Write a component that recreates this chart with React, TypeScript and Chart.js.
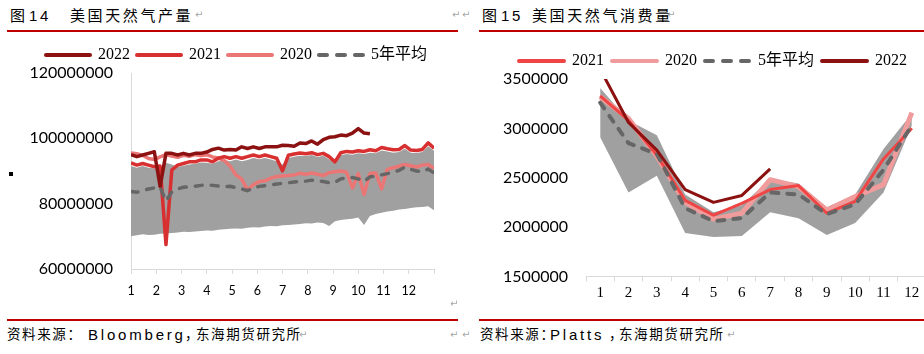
import React, { useEffect, useRef } from 'react';
import { Chart, registerables } from 'chart.js';

Chart.register(...registerables);

// ---------- Figure 14: US natural gas production (weekly, in millions) ----------
const UNIT = 1000000;
const prodMonthTicks = [1, 2, 3, 4, 5, 6, 7, 8, 9, 10, 11, 12];
const prod2022 = [95.0, 94.4, 94.9, 95.4, 95.9, 85.3, 95.4, 95.4, 94.9, 95.4, 94.9, 95.4, 95.4, 95.8, 96.6, 97.0, 96.4, 96.6, 96.4, 97.4, 96.9, 97.4, 96.9, 97.4, 97.4, 97.4, 97.9, 97.8, 97.6, 98.6, 98.4, 99.2, 98.2, 99.6, 100.3, 100.5, 101.0, 100.8, 101.6, 103.0, 101.6, 101.4];
const prod2021 = [92.5, 91.8, 92.3, 91.8, 91.3, 91.5, 67.5, 90.3, 91.8, 92.3, 92.8, 92.8, 93.4, 93.4, 92.8, 93.9, 94.4, 93.9, 94.4, 93.9, 94.4, 94.9, 94.4, 94.9, 94.4, 93.9, 90.0, 94.8, 95.2, 95.5, 95.3, 95.6, 95.0, 95.4, 94.4, 92.8, 95.6, 96.0, 95.8, 96.2, 96.0, 96.5, 96.2, 97.2, 96.8, 96.5, 96.6, 97.8, 96.4, 96.3, 96.6, 98.6, 97.0];
const prod2020 = [95.5, 95.3, 94.8, 93.8, 93.5, 94.3, 95.0, 94.6, 94.2, 94.8, 94.5, 95.0, 94.7, 95.0, 94.3, 94.0, 93.2, 91.5, 88.8, 87.5, 84.2, 85.8, 86.8, 87.0, 87.8, 88.3, 88.5, 88.6, 88.8, 89.3, 89.0, 89.4, 89.0, 88.6, 89.5, 89.8, 90.0, 89.6, 84.8, 89.2, 82.8, 89.2, 89.4, 84.5, 90.5, 91.0, 91.5, 92.0, 91.6, 91.2, 91.8, 92.0, 90.8];
const prodAvg = [83.7, 83.5, 84.0, 84.5, 84.8, 85.0, 80.8, 83.6, 84.5, 85.0, 85.2, 85.3, 85.6, 85.8, 85.6, 85.4, 85.2, 85.3, 84.9, 84.5, 84.0, 84.8, 85.3, 85.5, 85.8, 86.0, 86.2, 86.4, 86.6, 86.8, 86.9, 87.2, 87.0, 86.8, 86.4, 86.5, 87.6, 87.9, 88.0, 87.6, 86.8, 88.2, 88.4, 88.8, 89.2, 89.6, 90.2, 91.2, 90.5, 90.0, 89.7, 90.6, 89.4];
const prodBandMax = [91.5, 91.0, 91.5, 91.0, 90.8, 91.0, 92.5, 92.0, 91.2, 91.6, 92.0, 92.2, 92.6, 92.5, 92.2, 93.0, 93.4, 93.0, 93.5, 93.0, 93.4, 94.0, 93.6, 94.0, 93.5, 93.0, 92.0, 94.0, 94.4, 94.7, 94.6, 94.9, 94.3, 94.7, 93.6, 92.3, 94.8, 95.2, 95.0, 95.4, 95.2, 95.6, 95.4, 96.3, 96.0, 95.6, 95.8, 96.8, 95.6, 95.5, 95.8, 97.6, 96.2];
const prodBandMin = [70.0, 70.3, 70.6, 70.4, 70.5, 70.8, 70.9, 71.0, 71.2, 71.4, 71.3, 71.5, 71.6, 71.8, 71.7, 72.0, 72.2, 72.3, 72.4, 72.3, 72.6, 72.8, 72.7, 73.0, 73.2, 73.1, 73.4, 73.5, 73.6, 73.8, 74.0, 73.9, 74.2, 74.1, 73.2, 74.6, 75.0, 75.2, 75.4, 75.8, 73.5, 76.2, 76.8, 77.2, 77.6, 77.8, 78.2, 78.4, 78.7, 78.9, 79.0, 79.2, 78.0];
const prodYTicks = [60000000, 80000000, 100000000, 120000000];

// ---------- Figure 15: US natural gas consumption (monthly) ----------
const consMonths = ['1', '2', '3', '4', '5', '6', '7', '8', '9', '10', '11', '12'];
const cons2021 = [3330000, 3080000, 2730000, 2270000, 2120000, 2240000, 2380000, 2420000, 2140000, 2260000, 2690000, 3000000];
const cons2020 = [3320000, 3100000, 2720000, 2250000, 2080000, 2140000, 2480000, 2410000, 2170000, 2310000, 2430000, 3160000];
const consAvg = [3260000, 2850000, 2740000, 2190000, 2060000, 2090000, 2350000, 2330000, 2130000, 2230000, 2580000, 3030000];
const cons2022 = [3600000, 3060000, 2780000, 2380000, 2250000, 2320000, 2590000];
const consBandMax = [3410000, 3080000, 2930000, 2330000, 2150000, 2220000, 2490000, 2440000, 2200000, 2330000, 2790000, 3150000];
const consBandMin = [2910000, 2350000, 2520000, 1940000, 1900000, 1910000, 2150000, 2090000, 1920000, 2040000, 2350000, 3030000];

const C2022 = '#8C1212';
const BAND = '#A0A0A0';
const AVG = '#666666';
const AXIS = '#D9D9D9';
const SANS = "Lato, 'Noto Sans', sans-serif";
const SERIF = "'Liberation Serif', 'Noto Sans CJK SC', serif";
const CJK = "'Noto Sans CJK SC', 'Liberation Sans', sans-serif";

// weekly positions on the month axis (1 .. 13)
const weekPos = prod2021.map((_, i) => 1 + (i * 12) / 52);
const toPts = (arr: number[]) => arr.map((v, i) => ({ x: weekPos[i], y: v * UNIT }));

function legendLabels(count: number) {
  return (chart: any) =>
    chart.data.datasets.slice(0, count).map((ds: any, i: number) => ({
      text: ds.label,
      fillStyle: ds.borderColor,
      strokeStyle: ds.borderColor,
      lineWidth: 4,
      lineDash: ds.borderDash ? [8, 10] : [],
      lineCap: 'round',
      pointStyle: 'line',
      hidden: false,
      datasetIndex: i,
      fontColor: '#000',
    }));
}

function prodConfig(): any {
  return {
    type: 'line',
    data: {
      datasets: [
        { label: '2022', data: toPts(prod2022), borderColor: C2022, backgroundColor: C2022, borderWidth: 3.5, pointRadius: 0, order: 1, fill: false, borderJoinStyle: 'round' },
        { label: '2021', data: toPts(prod2021), borderColor: '#D83030', backgroundColor: '#D83030', borderWidth: 3.5, pointRadius: 0, order: 2, fill: false, borderJoinStyle: 'round' },
        { label: '2020', data: toPts(prod2020), borderColor: '#EB7676', backgroundColor: '#EB7676', borderWidth: 3.5, pointRadius: 0, order: 3, fill: false, borderJoinStyle: 'round' },
        { label: '5年平均', data: toPts(prodAvg), borderColor: AVG, backgroundColor: AVG, borderWidth: 3.5, borderDash: [7, 9], borderCapStyle: 'round', pointRadius: 0, order: 0, fill: false },
        { label: 'max', data: toPts(prodBandMax), borderWidth: 0, borderColor: BAND, backgroundColor: BAND, pointRadius: 0, order: 4, fill: '+1' },
        { label: 'min', data: toPts(prodBandMin), borderWidth: 0, borderColor: BAND, backgroundColor: BAND, pointRadius: 0, order: 5, fill: false },
      ],
    },
    options: {
      responsive: false,
      animation: false,
      layout: { padding: { left: 0, right: 28, top: 0, bottom: 0 } },
      plugins: {
        tooltip: { enabled: false },
        legend: {
          position: 'top',
          align: 'end',
          labels: {
            usePointStyle: true,
            pointStyleWidth: 44,
            padding: 7,
            color: '#000',
            font: { family: SERIF, size: 16 },
            generateLabels: legendLabels(4),
          },
        },
      },
      scales: {
        x: {
          type: 'linear',
          min: 1,
          max: 13,
          afterBuildTicks: (s: any) => { s.ticks = [...prodMonthTicks, 13].map((v) => ({ value: v })); },
          ticks: { autoSkip: false, maxRotation: 0, padding: 9, color: '#000', font: { family: SANS, size: 12.5 }, callback: (v: number) => (prodMonthTicks.includes(v) ? String(v) : '') },
          grid: { display: true, drawOnChartArea: false, drawTicks: true, tickLength: 5, color: AXIS },
          border: { display: true, color: AXIS },
          afterFit: (s: any) => { s.height = 31; },
        },
        y: {
          min: 60000000,
          max: 120000000,
          afterBuildTicks: (s: any) => { s.ticks = prodYTicks.map((v) => ({ value: v })); },
          ticks: { padding: 18, color: '#000', font: { family: SANS, size: 16 }, callback: (v: number) => String(v) },
          grid: { display: false, drawTicks: false },
          border: { display: true, color: AXIS },
          afterFit: (s: any) => { s.width = 131; },
        },
      },
    },
  };
}

function consConfig(): any {
  return {
    type: 'line',
    data: {
      labels: consMonths,
      datasets: [
        { label: '2021', data: cons2021, borderColor: '#F04545', backgroundColor: '#F04545', borderWidth: 3, pointRadius: 0, order: 2, fill: false, borderJoinStyle: 'round' },
        { label: '2020', data: cons2020, borderColor: '#F19C9C', backgroundColor: '#F19C9C', borderWidth: 5, pointRadius: 0, order: 3, fill: false, borderJoinStyle: 'round' },
        { label: '5年平均', data: consAvg, borderColor: AVG, backgroundColor: AVG, borderWidth: 4, borderDash: [7, 9], borderCapStyle: 'round', pointRadius: 0, order: 1, fill: false },
        { label: '2022', data: cons2022, borderColor: C2022, backgroundColor: C2022, borderWidth: 3, pointRadius: 0, order: 0, fill: false, borderJoinStyle: 'round' },
        { label: 'max', data: consBandMax, borderWidth: 0, borderColor: BAND, backgroundColor: BAND, pointRadius: 0, order: 4, fill: '+1' },
        { label: 'min', data: consBandMin, borderWidth: 0, borderColor: BAND, backgroundColor: BAND, pointRadius: 0, order: 5, fill: false },
      ],
    },
    options: {
      responsive: false,
      animation: false,
      layout: { padding: { left: 0, right: 0, top: 0, bottom: 0 } },
      plugins: {
        tooltip: { enabled: false },
        legend: {
          position: 'top',
          labels: {
            usePointStyle: true,
            pointStyleWidth: 45,
            padding: 8,
            color: '#000',
            font: { family: SERIF, size: 16 },
            generateLabels: legendLabels(4),
          },
        },
      },
      scales: {
        x: {
          type: 'category',
          offset: true,
          ticks: { autoSkip: false, maxRotation: 0, padding: 3, color: '#000', font: { family: SERIF, size: 15 } },
          grid: { display: true, offset: true, drawOnChartArea: false, drawTicks: true, tickLength: 5, color: AXIS },
          border: { display: true, color: AXIS },
          afterFit: (s: any) => { s.height = 24; },
        },
        y: {
          min: 1500000,
          max: 3500000,
          ticks: { stepSize: 500000, padding: 18, color: '#000', font: { family: SANS, size: 16 }, callback: (v: number) => String(v) },
          grid: { display: false, drawTicks: false },
          border: { display: false },
          afterFit: (s: any) => { s.width = 86; },
        },
      },
    },
  };
}

const abs = (left: number, top: number, extra: React.CSSProperties = {}): React.CSSProperties => ({
  position: 'absolute',
  left,
  top,
  whiteSpace: 'nowrap',
  lineHeight: 1,
  ...extra,
});

const titleCss: React.CSSProperties = { fontFamily: CJK, fontSize: 15, letterSpacing: 2.6, color: '#000' };
const numCss: React.CSSProperties = { fontFamily: "'Liberation Sans', Arial, sans-serif", fontSize: 15, letterSpacing: 2.6, color: '#000' };
const srcCss: React.CSSProperties = { fontFamily: CJK, fontSize: 13.5, letterSpacing: 1.6, color: '#000' };
const srcLatin: React.CSSProperties = { fontFamily: "'Liberation Sans', Arial, sans-serif", fontSize: 15, letterSpacing: 2.8, color: '#000' };
const markCss: React.CSSProperties = { fontFamily: "'DejaVu Sans', sans-serif", fontSize: 10, color: '#A6A6A6' };
const rule = (left: number, top: number, width: number): React.CSSProperties => ({ position: 'absolute', left, top, width, height: 2, background: '#C00000' });

export default function App() {
  const leftRef = useRef<HTMLCanvasElement>(null);
  const rightRef = useRef<HTMLCanvasElement>(null);

  useEffect(() => {
    const c1 = new Chart(leftRef.current as HTMLCanvasElement, prodConfig());
    const c2 = new Chart(rightRef.current as HTMLCanvasElement, consConfig());
    return () => {
      c1.destroy();
      c2.destroy();
    };
  }, []);

  return (
    <div style={{ position: 'absolute', left: 0, top: 0, width: 924, height: 354, overflow: 'hidden', background: '#fff' }}>
      {/* titles */}
      <span style={abs(10, 7, titleCss)}>图</span>
      <span style={abs(29, 8, numCss)}>14</span>
      <span style={abs(70, 7, titleCss)}>美国天然气产量</span>
      <span style={abs(195, 10, markCss)}>↵</span>
      <span style={abs(452, 10, markCss)}>↵</span>
      <div style={rule(7, 30, 451)} />

      <span style={abs(462, 10, markCss)}>↵</span>
      <span style={abs(482, 7, titleCss)}>图</span>
      <span style={abs(501, 8, numCss)}>15</span>
      <span style={abs(532, 7, titleCss)}>美国天然气消费量</span>
      <span style={abs(667, 10, markCss)}>↵</span>
      <div style={rule(479, 30, 445)} />

      {/* stray marker on the left */}
      <div style={{ position: 'absolute', left: 9, top: 172, width: 4, height: 4, background: '#000' }} />

      <canvas ref={leftRef} width={462} height={260} style={{ position: 'absolute', left: 0, top: 40 }} />
      <canvas ref={rightRef} width={426} height={259} style={{ position: 'absolute', left: 500, top: 45 }} />

      {/* bottom */}
      <span style={abs(450, 299, markCss)}>↵</span>
      <div style={rule(7, 319, 451)} />
      <div style={rule(479, 319, 445)} />

      <span style={abs(7, 327, srcCss)}>资料来源：</span>
      <span style={abs(88, 327, srcLatin)}>Bloomberg</span>
      <span style={abs(185, 327, srcCss)}>，</span>
      <span style={abs(196, 327, srcCss)}>东海期货研究所</span>
      <span style={abs(299, 330, markCss)}>↵</span>
      <span style={abs(450, 330, markCss)}>↵</span>

      <span style={abs(462, 330, markCss)}>↵</span>
      <span style={abs(480, 327, srcCss)}>资料来源：</span>
      <span style={abs(550, 327, srcLatin)}>Platts</span>
      <span style={abs(609, 327, srcCss)}>，</span>
      <span style={abs(619, 327, srcCss)}>东海期货研究所</span>
      <span style={abs(727, 330, markCss)}>↵</span>
    </div>
  );
}
